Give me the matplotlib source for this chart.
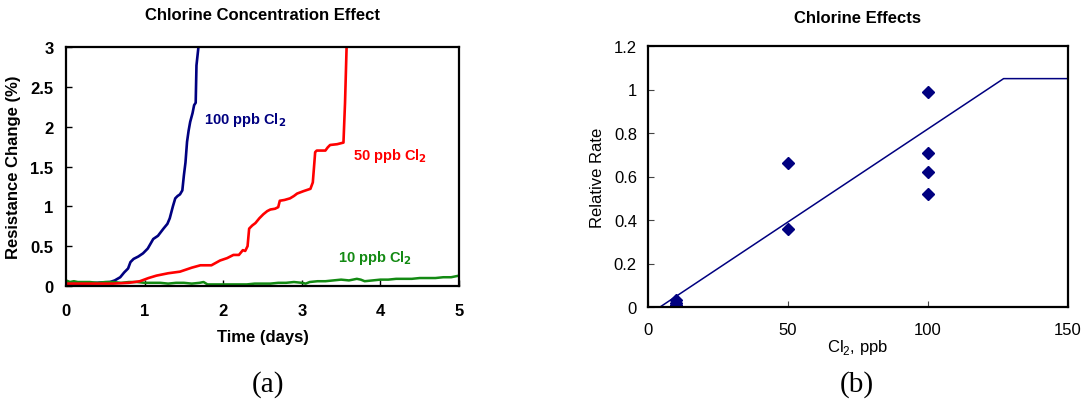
import matplotlib
matplotlib.use("Agg")
import matplotlib.pyplot as plt

# ---------------- data: panel (a) ----------------
t_100 = [0.0, 0.2, 0.4, 0.56, 0.62, 0.69, 0.74, 0.79, 0.82, 0.86, 0.92, 0.98, 1.04, 1.11, 1.17,
         1.24, 1.29, 1.32, 1.36, 1.39, 1.42, 1.45, 1.48, 1.50, 1.52, 1.54, 1.56, 1.58, 1.61,
         1.63, 1.65, 1.66, 1.685]
r_100 = [0.03, 0.03, 0.04, 0.05, 0.07, 0.11, 0.17, 0.22, 0.30, 0.34, 0.37, 0.41, 0.47, 0.59, 0.63,
         0.72, 0.78, 0.85, 1.00, 1.10, 1.13, 1.15, 1.20, 1.39, 1.55, 1.81, 1.95, 2.06, 2.17,
         2.27, 2.30, 2.77, 3.0]

t_50 = [0.0, 0.3, 0.6, 0.8, 0.94, 1.05, 1.15, 1.3, 1.45, 1.6, 1.71, 1.85, 1.96, 2.05, 2.13,
        2.20, 2.25, 2.28, 2.31, 2.33, 2.37, 2.41, 2.46, 2.51, 2.56, 2.60, 2.66, 2.70, 2.72,
        2.78, 2.85, 2.90, 2.94, 3.02, 3.11, 3.14, 3.16, 3.17, 3.19, 3.25, 3.30, 3.33, 3.36,
        3.45, 3.53, 3.55, 3.57]
r_50 = [0.03, 0.03, 0.03, 0.04, 0.06, 0.10, 0.13, 0.16, 0.18, 0.23, 0.26, 0.26, 0.32, 0.35, 0.39,
        0.39, 0.45, 0.44, 0.50, 0.72, 0.76, 0.79, 0.85, 0.90, 0.94, 0.96, 0.97, 0.99, 1.07,
        1.08, 1.10, 1.13, 1.16, 1.19, 1.22, 1.30, 1.55, 1.68, 1.70, 1.70, 1.70, 1.74, 1.77,
        1.78, 1.80, 2.3, 3.0]

t_10 = [0.0, 0.05, 0.1, 0.15, 0.2, 0.3, 0.4, 0.5, 0.6, 0.7, 0.8, 0.9, 1.0, 1.1, 1.2, 1.3, 1.4, 1.5,
        1.6, 1.7, 1.75, 1.8, 1.9, 2.0, 2.1, 2.2, 2.3, 2.4, 2.5, 2.6, 2.7, 2.8, 2.9, 3.0, 3.05,
        3.1, 3.2, 3.3, 3.4, 3.5, 3.6, 3.7, 3.75, 3.8, 3.9, 4.0, 4.1, 4.2, 4.3, 4.4, 4.5, 4.6,
        4.7, 4.8, 4.9, 5.0]
r_10 = [0.07, 0.05, 0.06, 0.05, 0.05, 0.05, 0.04, 0.05, 0.05, 0.04, 0.05, 0.05, 0.04, 0.04, 0.04,
        0.03, 0.04, 0.04, 0.03, 0.04, 0.05, 0.02, 0.02, 0.02, 0.02, 0.02, 0.02, 0.03, 0.03, 0.03,
        0.04, 0.04, 0.05, 0.04, 0.03, 0.05, 0.06, 0.06, 0.07, 0.08, 0.07, 0.09, 0.08, 0.06,
        0.07, 0.08, 0.08, 0.09, 0.09, 0.09, 0.10, 0.10, 0.10, 0.11, 0.11, 0.13]

# ---------------- data: panel (b) ----------------
cl2_ppb = [10, 10, 10, 50, 50, 100, 100, 100, 100]
rel_rate = [0.03, 0.02, 0.01, 0.66, 0.36, 0.99, 0.71, 0.62, 0.52]
fit_x = [4.3, 127, 150]
fit_y = [0.0, 1.05, 1.05]

W, H = 1087, 402
fig = plt.figure(figsize=(W / 100, H / 100), dpi=100)
fig.patch.set_facecolor("white")

SANS = "Liberation Sans"
SERIF = "Liberation Serif"
NAVY = "#000080"
RED = "#ff0000"
GREEN = "#138a13"

def frac_box(x0, y0, x1, y1):
    return [x0 / W, 1 - y1 / H, (x1 - x0) / W, (y1 - y0) / H]

# ---------------- panel (a) ----------------
ax1 = fig.add_axes(frac_box(66, 48, 459, 287))
ax1.plot(t_100, r_100, color=NAVY, lw=1.9, solid_joinstyle="round")
ax1.plot(t_10, r_10, color=GREEN, lw=1.8, solid_joinstyle="round")
ax1.plot(t_50, r_50, color=RED, lw=1.9, solid_joinstyle="round")
ax1.set_xlim(0, 5)
ax1.set_ylim(0, 3)
ax1.set_xticks([0, 1, 2, 3, 4, 5])
ax1.set_yticks([0, 0.5, 1, 1.5, 2, 2.5, 3])
ax1.set_yticklabels(["0", "0.5", "1", "1.5", "2", "2.5", "3"])
ax1.tick_params(direction="in", length=4, width=1, labelsize=12)
ax1.tick_params(axis="x", pad=12)
ax1.tick_params(axis="y", pad=9)
for lab in ax1.get_xticklabels() + ax1.get_yticklabels():
    lab.set_fontweight("bold")
    lab.set_fontfamily(SANS)
for s in ax1.spines.values():
    s.set_linewidth(1.6)
ax1.set_xlabel("Time (days)", fontsize=12, fontweight="bold", family=SANS, labelpad=8)
ax1.set_ylabel("Resistance Change (%)", fontsize=12, fontweight="bold", family=SANS, labelpad=7)
ax1.set_title("Chlorine Concentration Effect", fontsize=12, fontweight="bold", family=SANS, pad=20)

ax1.text(1.75, 2.05, "100 ppb Cl$_\\mathbf{2}$", color=NAVY, fontsize=10.5, fontweight="bold", family=SANS)
ax1.text(3.65, 1.59, "50 ppb Cl$_\\mathbf{2}$", color=RED, fontsize=10.5, fontweight="bold", family=SANS)
ax1.text(3.46, 0.31, "10 ppb Cl$_\\mathbf{2}$", color=GREEN, fontsize=10.5, fontweight="bold", family=SANS)

fig.text(268 / W, 1 - 385 / H, "(a)", family=SERIF, fontsize=21, ha="center", va="center")

# ---------------- panel (b) ----------------
ax2 = fig.add_axes(frac_box(648, 47, 1068, 308))
ax2.plot(fit_x, fit_y, color=NAVY, lw=1.1)
ax2.plot(cl2_ppb, rel_rate, linestyle="none", marker="D", color=NAVY, markersize=6.5)
ax2.set_xlim(0, 150)
ax2.set_ylim(0, 1.2)
ax2.set_xticks([0, 50, 100, 150])
ax2.set_yticks([0, 0.2, 0.4, 0.6, 0.8, 1.0, 1.2])
ax2.set_yticklabels(["0", "0.2", "0.4", "0.6", "0.8", "1", "1.2"])
ax2.tick_params(direction="in", length=4, width=0.8, labelsize=12, color="#444444")
ax2.tick_params(axis="x", pad=11)
ax2.tick_params(axis="y", pad=8)
for lab in ax2.get_xticklabels() + ax2.get_yticklabels():
    lab.set_fontfamily(SANS)
for s in ax2.spines.values():
    s.set_linewidth(1.6)
ax2.set_xlabel("Cl$_\\mathregular{2}$, ppb", fontsize=12, family=SANS, labelpad=0)
ax2.set_ylabel("Relative Rate", fontsize=12, family=SANS, labelpad=6)
ax2.set_title("Chlorine Effects", fontsize=12, fontweight="bold", family=SANS, pad=17)

fig.text(857 / W, 1 - 385 / H, "(b)", family=SERIF, fontsize=21, ha="center", va="center")

fig.savefig("out.png", dpi=100, facecolor="white")
